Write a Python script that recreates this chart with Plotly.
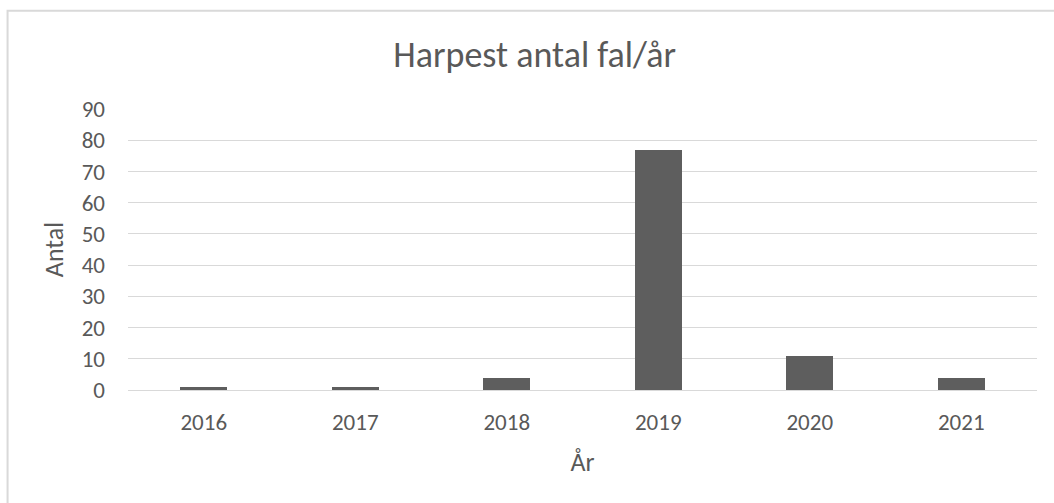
import plotly.graph_objects as go

years = ["2016", "2017", "2018", "2019", "2020", "2021"]
counts = [1, 1, 4, 77, 11, 4]
y_ticks = [0, 10, 20, 30, 40, 50, 60, 70, 80, 90]

W, H = 1054, 503
L, R, T, B = 127.5, 17, 109, 112.5
pw, ph = W - L - R, H - T - B

FONT = "Carlito, 'Liberation Sans Narrow', 'Open Sans', sans-serif"
TXT = "#595959"

fig = go.Figure(go.Bar(
    x=years, y=counts,
    marker=dict(color="#5e5e5e", line=dict(width=0)),
    width=0.308,
))

def px_x(p):
    return (p - L) / pw

def px_y(p):
    return (H - B - p) / ph

fig.update_layout(
    width=W, height=H,
    margin=dict(l=L, r=R, t=T, b=B, pad=0),
    paper_bgcolor="white", plot_bgcolor="white",
    font=dict(family=FONT, color=TXT, size=23),
    title=dict(text="Harpest antal fal/år", x=534.7 / W, xanchor="center",
               y=1 - 54 / H, yanchor="middle", xref="container", yref="container",
               font=dict(size=36, color=TXT, family=FONT)),
    showlegend=False,
    bargap=0,
    xaxis=dict(type="category", showgrid=False, showline=False, ticks="",
               tickfont=dict(size=23, color=TXT), ticklabelstandoff=16,
               title=dict(text="År", font=dict(size=26, color=TXT), standoff=17)),
    yaxis=dict(range=[0, 90], tickvals=y_ticks, showgrid=True,
               gridcolor="#d9d9d9", gridwidth=1.3, zeroline=True,
               zerolinecolor="#d9d9d9", zerolinewidth=1.3,
               ticks="", showline=False, ticklabelstandoff=22,
               tickfont=dict(size=23, color=TXT),
               title=dict(text="Antal", font=dict(size=26, color=TXT), standoff=10)),
    shapes=[dict(type="rect", xref="paper", yref="paper",
                 x0=px_x(7), x1=px_x(1070), y0=px_y(520), y1=px_y(10.5),
                 line=dict(color="#d9d9d9", width=2), fillcolor="rgba(0,0,0,0)",
                 layer="below")],
)

fig.write_html("out.html", config={"displayModeBar": False},
               post_script="document.body.style.margin='0';document.body.style.overflow='hidden';")
